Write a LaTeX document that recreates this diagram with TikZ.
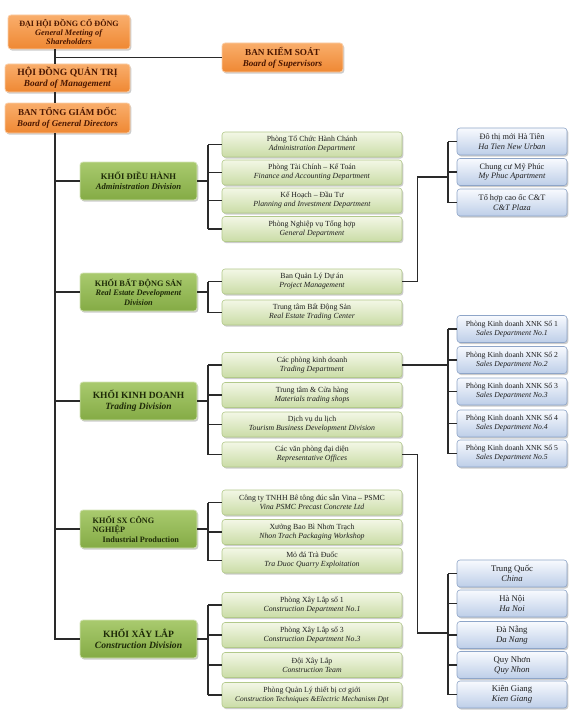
\documentclass[tikz,border=0pt]{standalone}
\usepackage{fontspec}
\setmainfont{Liberation Serif}
\usetikzlibrary{shadows}
\definecolor{linec}{HTML}{2A2A2A}
\definecolor{orgtop}{HTML}{F9AE6C}
\definecolor{orgbot}{HTML}{EF8833}
\definecolor{orgtxt}{HTML}{4A1600}
\definecolor{divtop}{HTML}{A9CA6E}
\definecolor{divbot}{HTML}{84AB45}
\definecolor{divtxt}{HTML}{1E2A08}
\definecolor{deptop}{HTML}{F3F7E6}
\definecolor{depbot}{HTML}{CADCA6}
\definecolor{depdraw}{HTML}{B2C98A}
\definecolor{blutop}{HTML}{F8FAFE}
\definecolor{blubot}{HTML}{BDCEE8}
\definecolor{bludraw}{HTML}{8EA5C8}
\tikzset{
  base/.style={rounded corners=3pt, inner sep=0pt, align=center,
    drop shadow={opacity=0.4, shadow xshift=1.3pt, shadow yshift=-1.6pt}},
  orgbox/.style={base, draw=orgtop!60!white, line width=0.8pt, top color=orgtop, bottom color=orgbot,
    text=orgtxt, font=\bfseries\fontsize{9}{10}\selectfont},
  divbox/.style={base, draw=divtop!50!white, line width=0.8pt, top color=divtop, bottom color=divbot,
    text=divtxt, font=\bfseries\fontsize{8.6}{10.2}\selectfont, minimum width=117pt, minimum height=38pt},
  deptbox/.style={base, draw=depdraw, line width=0.6pt, top color=deptop, bottom color=depbot,
    text=black!88, font=\fontsize{7.8}{9}\selectfont, minimum width=180pt, minimum height=25pt},
  blubox/.style={base, draw=bludraw, line width=0.6pt, top color=blutop, bottom color=blubot,
    text=black!88, font=\fontsize{7.7}{9}\selectfont, minimum width=110pt, minimum height=27pt},
  projbox/.style={blubox, font=\fontsize{8.3}{9.6}\selectfont},
  citybox/.style={blubox, font=\fontsize{8.7}{10}\selectfont},
  conn/.style={draw=linec, line width=1.5pt},
}
\begin{document}
\begin{tikzpicture}[x=1pt,y=-1pt]
\useasboundingbox (0,0) rectangle (574,725);
\fill[white] (0,0) rectangle (574,725);
% reference x positions
\coordinate (tx) at (55,0);
\coordinate (bx) at (208,0);
\coordinate (sx) at (448,0);
\coordinate (j1) at (417.5,177);
\coordinate (j2) at (417.5,633);

% top management
\node[orgbox, minimum width=122pt, minimum height=34pt, font=\bfseries\fontsize{8.1}{9.3}\selectfont] (gm) at (69,32)
  {ĐẠI HỘI ĐỒNG CỔ ĐÔNG\\\textit{\fontsize{8.3}{9.3}\selectfont General Meeting of}\\\textit{\fontsize{8.3}{9.3}\selectfont Shareholders}};
\node[orgbox, minimum width=125pt, minimum height=28pt, font=\bfseries\fontsize{9.6}{11}\selectfont] (bm) at (67.5,78)
  {HỘI ĐỒNG QUẢN TRỊ\\\textit{\fontsize{9.3}{10.5}\selectfont Board of Management}};
\node[orgbox, minimum width=125pt, minimum height=30pt, font=\bfseries\fontsize{9.1}{10.8}\selectfont] (bgd) at (67.5,118)
  {BAN TỔNG GIÁM ĐỐC\\\textit{\fontsize{8.9}{10.5}\selectfont Board of General Directors}};
\node[orgbox, minimum width=121pt, minimum height=29pt, font=\bfseries\fontsize{9.2}{10.8}\selectfont] (sup) at (282.5,57.5)
  {BAN KIỂM SOÁT\\\textit{\fontsize{9.1}{10.5}\selectfont Board of Supervisors}};

% divisions
\node[divbox] (ad) at (138.5,181) {KHỐI ĐIỀU HÀNH\\\textit{Administration Division}};
\node[divbox, font=\bfseries\fontsize{8.3}{9.6}\selectfont] (re) at (138.5,292) {KHỐI BẤT ĐỘNG SẢN\\\textit{Real Estate Development}\\\textit{Division}};
\node[divbox, font=\bfseries\fontsize{9.5}{11.2}\selectfont] (td) at (138.5,401) {KHỐI KINH DOANH\\\textit{Trading Division}};
\node[divbox, align=left, font=\bfseries\fontsize{8.2}{9.6}\selectfont] (ip) at (138.5,529) {KHỐI SX CÔNG\hspace*{30pt}\\NGHIỆP\\\hspace*{10pt}Industrial Production};
\node[divbox, font=\bfseries\fontsize{9.6}{11.2}\selectfont] (cd) at (138.5,639) {KHỐI XÂY LẮP\\\textit{Construction Division}};

% administration departments
\node[deptbox] (ad1) at (312,144.5) {Phòng Tổ Chức Hành Chánh\\\textit{Administration Department}};
\node[deptbox] (ad2) at (312,172.5) {Phòng Tài Chính – Kế Toán\\\textit{Finance and Accounting Department}};
\node[deptbox] (ad3) at (312,200.5) {Kế Hoạch – Đầu Tư\\\textit{Planning and Investment Department}};
\node[deptbox] (ad4) at (312,229) {Phòng Nghiệp vụ Tổng hợp\\\textit{General Department}};

% real estate departments
\node[deptbox] (re1) at (312,281.5) {Ban Quản Lý Dự án\\\textit{Project Management}};
\node[deptbox] (re2) at (312,312.5) {Trung tâm Bất Động Sản\\\textit{Real Estate Trading Center}};

% trading departments
\node[deptbox] (td1) at (312,365) {Các phòng kinh doanh\\\textit{Trading Department}};
\node[deptbox] (td2) at (312,395) {Trung tâm \& Cửa hàng\\\textit{Materials trading shops}};
\node[deptbox] (td3) at (312,424.5) {Dịch vụ du lịch\\\textit{Tourism Business Development Division}};
\node[deptbox] (td4) at (312,454.5) {Các văn phòng đại diện\\\textit{Representative Offices}};

% industrial departments
\node[deptbox] (ip1) at (312,502.5) {Công ty TNHH Bê tông đúc sẵn Vina – PSMC\\\textit{Vina PSMC Precast Concrete Ltd}};
\node[deptbox] (ip2) at (312,532) {Xưởng Bao Bì Nhơn Trạch\\\textit{Nhon Trach Packaging Workshop}};
\node[deptbox] (ip3) at (312,560.5) {Mỏ đá Trà Đuốc\\\textit{Tra Duoc Quarry Exploitation}};

% construction departments
\node[deptbox] (cd1) at (312,605) {Phòng Xây Lắp số 1\\\textit{Construction Department No.1}};
\node[deptbox] (cd2) at (312,635) {Phòng Xây Lắp số 3\\\textit{Construction Department No.3}};
\node[deptbox] (cd3) at (312,665) {Đội Xây Lắp\\\textit{Construction Team}};
\node[deptbox] (cd4) at (312,695) {Phòng Quản Lý thiết bị cơ giới\\\textit{\fontsize{7.4}{9}\selectfont Construction Techniques \&Electric Mechanism Dpt}};

% projects
\node[projbox] (pr1) at (512,141.5) {Đô thị mới Hà Tiên\\\textit{Ha Tien New Urban}};
\node[projbox] (pr2) at (512,172) {Chung cư Mỹ Phúc\\\textit{My Phuc Apartment}};
\node[projbox] (pr3) at (512,202.5) {Tổ hợp cao ốc C\&T\\\textit{C\&T Plaza}};

% sales departments
\node[blubox] (sd1) at (512,329) {Phòng Kinh doanh XNK Số 1\\\textit{Sales Department No.1}};
\node[blubox] (sd2) at (512,360) {Phòng Kinh doanh XNK Số 2\\\textit{Sales Department No.2}};
\node[blubox] (sd3) at (512,391.5) {Phòng Kinh doanh XNK Số 3\\\textit{Sales Department No.3}};
\node[blubox] (sd4) at (512,423.5) {Phòng Kinh doanh XNK Số 4\\\textit{Sales Department No.4}};
\node[blubox] (sd5) at (512,453.5) {Phòng Kinh doanh XNK Số 5\\\textit{Sales Department No.5}};

% representative offices
\node[citybox] (ro1) at (512,573.5) {Trung Quốc\\\textit{China}};
\node[citybox] (ro2) at (512,603.5) {Hà Nội\\\textit{Ha Noi}};
\node[citybox] (ro3) at (512,635) {Đà Nẵng\\\textit{Da Nang}};
\node[citybox] (ro4) at (512,665) {Quy Nhơn\\\textit{Quy Nhon}};
\node[citybox] (ro5) at (512,694.5) {Kiên Giang\\\textit{Kien Giang}};

% connectors: top
\draw[conn] (gm.south -| tx) -- (bm.north -| tx);
\draw[conn] (sup.west) -- (sup.west -| tx);
\draw[conn] (bm.south -| tx) -- (bgd.north -| tx);
\draw[conn] (bgd.south -| tx) |- (cd.west);
\foreach \d in {ad,re,td,ip}{\draw[conn] (\d.west -| tx) -- (\d.west);}

% connectors: division brackets
\draw[conn] (ad.east) -- (ad.east -| bx);
\draw[conn] (ad1.west -| bx) -- (ad4.west -| bx);
\foreach \d in {ad1,ad2,ad3,ad4}{\draw[conn] (\d.west -| bx) -- (\d.west);}
\draw[conn] (re.east) -- (re.east -| bx);
\draw[conn] (re1.west -| bx) -- (re2.west -| bx);
\foreach \d in {re1,re2}{\draw[conn] (\d.west -| bx) -- (\d.west);}
\draw[conn] (td.east) -- (td.east -| bx);
\draw[conn] (td1.west -| bx) -- (td4.west -| bx);
\foreach \d in {td1,td2,td3,td4}{\draw[conn] (\d.west -| bx) -- (\d.west);}
\draw[conn] (ip.east) -- (ip.east -| bx);
\draw[conn] (ip1.west -| bx) -- (ip3.west -| bx);
\foreach \d in {ip1,ip2,ip3}{\draw[conn] (\d.west -| bx) -- (\d.west);}
\draw[conn] (cd.east) -- (cd.east -| bx);
\draw[conn] (cd1.west -| bx) -- (cd4.west -| bx);
\foreach \d in {cd1,cd2,cd3,cd4}{\draw[conn] (\d.west -| bx) -- (\d.west);}

% connectors: right side
\draw[conn] (re1.east) -| (j1) -- (j1 -| sx);
\draw[conn] (pr1.west -| sx) -- (pr3.west -| sx);
\foreach \d in {pr1,pr2,pr3}{\draw[conn] (\d.west -| sx) -- (\d.west);}
\draw[conn] (td1.east) -- (td1.east -| sx);
\draw[conn] (sd1.west -| sx) -- (sd5.west -| sx);
\foreach \d in {sd1,sd2,sd3,sd4,sd5}{\draw[conn] (\d.west -| sx) -- (\d.west);}
\draw[conn] (td4.east) -| (j2) -- (j2 -| sx);
\draw[conn] (ro1.west -| sx) -- (ro5.west -| sx);
\foreach \d in {ro1,ro2,ro3,ro4,ro5}{\draw[conn] (\d.west -| sx) -- (\d.west);}
\end{tikzpicture}
\end{document}
